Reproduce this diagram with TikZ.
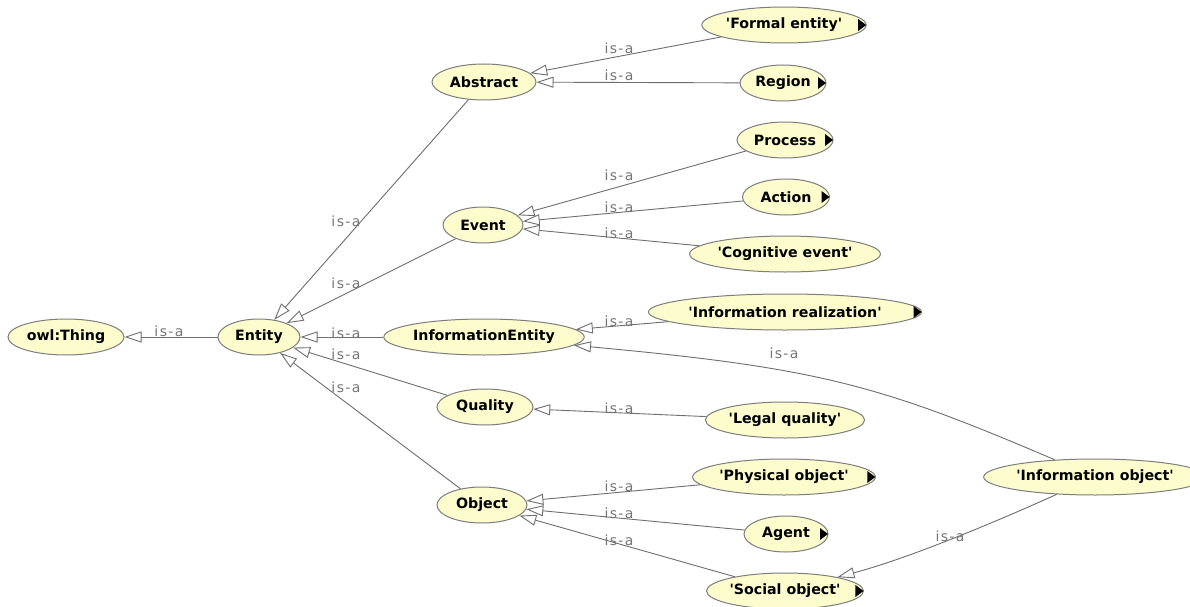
\documentclass[tikz,border=0pt]{standalone}
\usepackage{fontspec}
\setmainfont{DejaVu Sans}[Ligatures=TeXOff]
\usetikzlibrary{shapes.geometric,arrows.meta}
\definecolor{clsfill}{RGB}{252,252,204}
\definecolor{clsline}{RGB}{125,125,125}
\definecolor{edgeline}{RGB}{110,110,110}
\definecolor{lbltext}{RGB}{118,118,118}
% small black marker at the right end of a class that has subclasses
\newcommand\clsmore[1]{\fill[black] (#1.east) ++(-0.5,0) -- ++(-8,-6) -- ++(0,12) -- cycle;}
\begin{document}
\begin{tikzpicture}[x=1pt,y=-1pt,
  cls/.style={ellipse, draw=clsline, line width=1pt, fill=clsfill,
    minimum height=36pt, minimum width=#1, inner sep=0pt,
    font=\fontsize{14.2}{17}\selectfont\bfseries},
  isa/.style={draw=edgeline, line width=0.9pt,
    -{Triangle[open,length=17pt,width=11pt]}},
  lbl/.style={anchor=base, text=lbltext, inner sep=0pt,
    font=\fontsize{14}{16}\selectfont\addfontfeature{LetterSpace=10}}]
\fill[white] (0,0) rectangle (1190,607);
\useasboundingbox (0,0) rectangle (1190,607);

% classes
\node[cls=116] (thing) at (66,337)  {owl:Thing};
\node[cls=82]  (ent)   at (259,337) {Entity};
\node[cls=104] (abs)   at (484,82)  {Abstract};
\node[cls=80]  (ev)    at (483,225) {Event};
\node[cls=178] (ie)    at (484,337) {InformationEntity};
\node[cls=96]  (qu)    at (485,407) {Quality};
\node[cls=90]  (ob)    at (482,505) {Object};
\node[cls=148] (fe)    at (784,25)  {'Formal entity'};
\node[cls=86]  (reg)   at (783,83)  {Region};
\node[cls=96]  (pr)    at (785,140) {Process};
\node[cls=87]  (ac)    at (786,197) {Action};
\node[cls=170] (ce)    at (785,254) {'Cognitive event'};
\node[cls=236] (ir)    at (785,312) {'Information realization'};
\node[cls=147] (lq)    at (785,420) {'Legal quality'};
\node[cls=166] (po)    at (784,477) {'Physical object'};
\node[cls=84]  (ag)    at (786,534) {Agent};
\node[cls=145] (so)    at (785,591) {'Social object'};
\node[cls=194] (io)    at (1095,477) {'Information object'};

\clsmore{fe}\clsmore{reg}\clsmore{pr}\clsmore{ac}\clsmore{ir}
\clsmore{po}\clsmore{ag}\clsmore{so}\clsmore{io}

% is-a links, child to parent
\draw[isa] (ent) -- (thing);
\draw[isa] (abs) -- (ent);
\draw[isa] (ev)  -- (ent);
\draw[isa] (ie)  -- (ent);
\draw[isa] (qu)  -- (ent);
\draw[isa] (ob)  -- (ent);
\draw[isa] (fe)  -- (abs);
\draw[isa] (reg) -- (abs);
\draw[isa] (pr)  -- (ev);
\draw[isa] (ac)  -- (ev);
\draw[isa] (ce)  -- (ev);
\draw[isa] (ir)  -- (ie);
\draw[isa] (io) .. controls (880,385) and (820,368) .. (ie);
\draw[isa] (lq)  -- (qu);
\draw[isa] (po)  -- (ob);
\draw[isa] (ag)  -- (ob);
\draw[isa] (so)  -- (ob);
\draw[isa] (io) .. controls (1000,520) and (910,558) .. (so);

% link labels
\node[lbl] (l1)  at (169,336) {is-a};
\node[lbl] (l2)  at (346,226) {is-a};
\node[lbl] (l3)  at (346,288) {is-a};
\node[lbl] (l4)  at (346,338) {is-a};
\node[lbl] (l5)  at (346,359) {is-a};
\node[lbl] (l6)  at (346,392) {is-a};
\node[lbl] (l7)  at (619,54)  {is-a};
\node[lbl] (l8)  at (619,81)  {is-a};
\node[lbl] (l9)  at (619,180) {is-a};
\node[lbl] (l10) at (619,212) {is-a};
\node[lbl] (l11) at (619,238) {is-a};
\node[lbl] (l12) at (619,326) {is-a};
\node[lbl] (l13) at (784,358) {is-a};
\node[lbl] (l14) at (619,413) {is-a};
\node[lbl] (l15) at (619,491) {is-a};
\node[lbl] (l16) at (619,518) {is-a};
\node[lbl] (l17) at (619,545) {is-a};
\node[lbl] (l18) at (950,541) {is-a};
\end{tikzpicture}
\end{document}
